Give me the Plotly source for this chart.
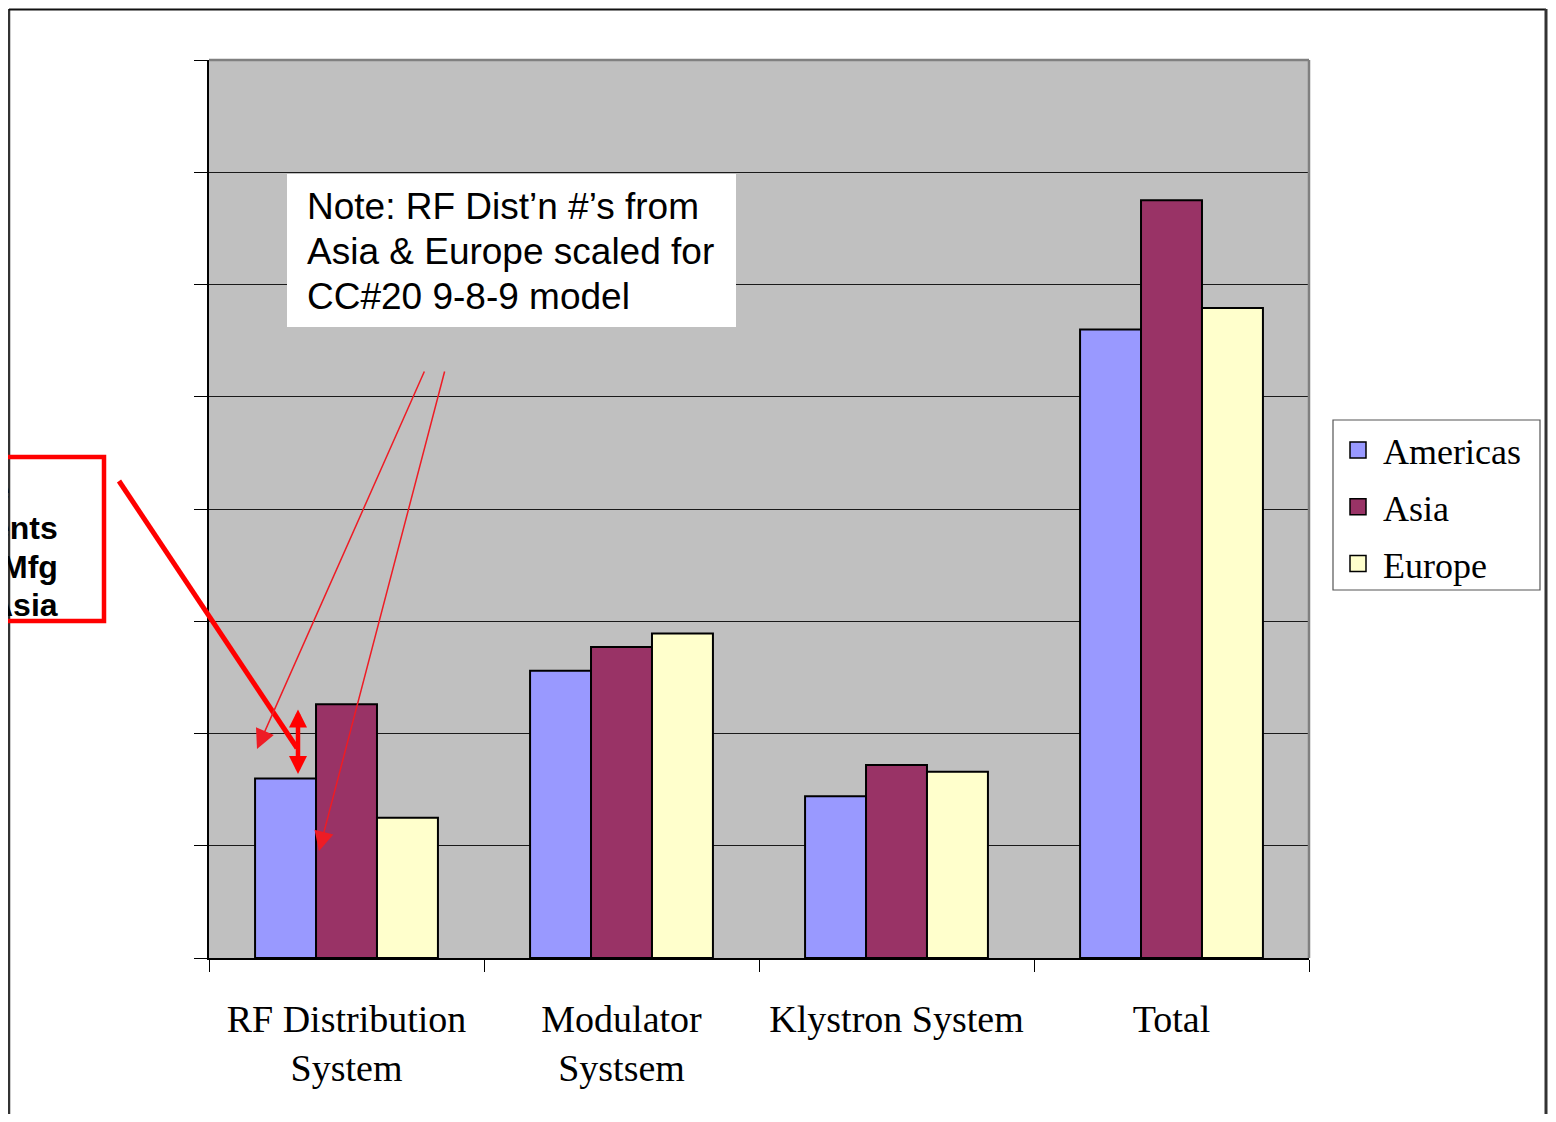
import plotly.graph_objects as go

categories = ["RF Distribution System", "Modulator Systsem", "Klystron System", "Total"]
tick_labels = ["RF Distribution<br>System", "Modulator<br>Systsem", "Klystron System", "Total"]
americas = [1.60, 2.56, 1.44, 5.60]
asia = [2.26, 2.77, 1.72, 6.75]
europe = [1.25, 2.89, 1.66, 5.79]
series_names = ["Americas", "Asia", "Europe"]
series_colors = ["#9999FF", "#993366", "#FFFFCC"]

OFF = 8  # browser body margin
W, H = 1540, 1106
L, T = 209 - OFF, 60 - OFF
PW, PH = 1100, 898
R, B = W - L - PW, H - T - PH


def px(x):
    return (x - OFF - L) / PW


def py(y):
    return (H - B - (y - OFF)) / PH


fig = go.Figure()
for name, vals, col in zip(series_names, [americas, asia, europe], series_colors):
    fig.add_trace(go.Bar(
        x=categories, y=vals, name=name, legendgroup=name, showlegend=False,
        marker=dict(color=col, line=dict(color="black", width=2)),
    ))
# legend entries with larger square swatches
for name, col in zip(series_names, series_colors):
    fig.add_trace(go.Scatter(
        x=[None], y=[None], mode="markers", name=name, legendgroup=name,
        marker=dict(symbol="square", size=22, color=col, line=dict(color="black", width=1.5)),
    ))

serif = "Liberation Serif, Times New Roman, serif"
sans = "Liberation Sans, Arial, sans-serif"

shapes = [
    # outer page frame
    dict(type="line", xref="paper", yref="paper", x0=px(9), x1=px(9), y0=py(9), y1=py(1140),
         line=dict(color="#333333", width=2.5)),
    dict(type="line", xref="paper", yref="paper", x0=px(9), x1=px(1546), y0=py(9.5), y1=py(9.5),
         line=dict(color="#111111", width=2)),
    dict(type="line", xref="paper", yref="paper", x0=px(1546), x1=px(1546), y0=py(9), y1=py(1140),
         line=dict(color="#333333", width=3)),
    # gray top/right plot border
    dict(type="line", xref="paper", yref="paper", x0=0, x1=1, y0=1, y1=1,
         line=dict(color="#808080", width=2.5), layer="above"),
    dict(type="line", xref="paper", yref="paper", x0=1, x1=1, y0=0, y1=1,
         line=dict(color="#808080", width=2.5), layer="above"),
    # legend frame
    dict(type="rect", xref="paper", yref="paper", x0=px(1333), x1=px(1540), y0=py(590), y1=py(420),
         fillcolor="white", line=dict(color="#555555", width=1.2), layer="below"),
    # note white box
    dict(type="rect", xref="paper", yref="paper", x0=px(287), x1=px(736), y0=py(327), y1=py(174),
         fillcolor="white", line=dict(width=0), layer="above"),
    # red callout box (clipped at left)
    dict(type="rect", xref="paper", yref="paper", x0=px(-30), x1=px(104), y0=py(621), y1=py(457),
         fillcolor="rgba(0,0,0,0)", line=dict(color="#FF0000", width=4.5), layer="above"),
    # thick red pointer line
    dict(type="line", xref="paper", yref="paper", x0=px(119), y0=py(481), x1=px(297), y1=py(748),
         line=dict(color="#FF0000", width=5), layer="above"),
]

annotations = []
note_lines = ["Note: RF Dist\u2019n #\u2019s from", "Asia & Europe scaled for", "CC#20 9-8-9 model"]
for txt, yc in zip(note_lines, [207, 251, 296]):
    annotations.append(dict(xref="paper", yref="paper", x=px(305), y=py(yc), text=txt,
                            showarrow=False, xanchor="left", yanchor="middle",
                            font=dict(family=sans, size=37, color="black")))

box_lines = [("e", 12, 490), ("ents", 60, 528), ("Mfg", 60, 567), ("Asia", 60, 605)]
for txt, xr, yc in box_lines:
    annotations.append(dict(xref="paper", yref="paper", x=px(xr), y=py(yc), text="<b>%s</b>" % txt,
                            showarrow=False, xanchor="right", yanchor="middle",
                            font=dict(family=sans, size=32, color="black")))

# thin red arrows
for hx, hy, tx, ty in [(257, 749, 425, 370), (319, 851, 445, 370)]:
    annotations.append(dict(xref="paper", yref="paper", x=px(hx), y=py(hy), text="",
                            showarrow=True, ax=tx - hx, ay=ty - hy, axref="pixel", ayref="pixel",
                            arrowhead=2, arrowsize=2.6, arrowwidth=1.5, arrowcolor="#EE1C25",
                            standoff=0, startstandoff=0))
# double-headed arrow
annotations.append(dict(xref="paper", yref="paper", x=px(298), y=py(774), text="",
                        showarrow=True, ax=0, ay=-66, axref="pixel", ayref="pixel",
                        arrowhead=2, startarrowhead=2, arrowside="end+start",
                        arrowsize=0.8, startarrowsize=0.8, arrowwidth=4.5, arrowcolor="#FF0000",
                        standoff=0, startstandoff=0))

fig.update_layout(
    width=W, height=H,
    margin=dict(l=L, r=R, t=T, b=B, pad=0),
    paper_bgcolor="white",
    plot_bgcolor="#C0C0C0",
    barmode="group",
    bargap=0.335,
    bargroupgap=0,
    showlegend=True,
    legend=dict(
        x=px(1333), y=py(420), xanchor="left", yanchor="top",
        bgcolor="rgba(0,0,0,0)", borderwidth=0,
        font=dict(family=serif, size=36, color="black"),
        traceorder="grouped", tracegroupgap=7,
        itemwidth=40, itemsizing="trace",
    ),
    shapes=shapes,
    annotations=annotations,
    xaxis=dict(
        tickmode="array", tickvals=categories, ticktext=tick_labels,
        tickson="boundaries", ticks="outside", ticklen=12, tickcolor="black", tickwidth=1,
        showline=True, linecolor="black", linewidth=2,
        showgrid=False,
        tickfont=dict(family=serif, size=38, color="black"),
        ticklabelstandoff=26,
    ),
    yaxis=dict(
        range=[0, 8], dtick=1, tick0=0,
        showticklabels=False,
        ticks="outside", ticklen=13, tickcolor="black", tickwidth=1,
        showgrid=True, gridcolor="#1a1a1a", gridwidth=1,
        showline=True, linecolor="black", linewidth=1.5,
        zeroline=False,
    ),
)

fig.write_html("out.html")
